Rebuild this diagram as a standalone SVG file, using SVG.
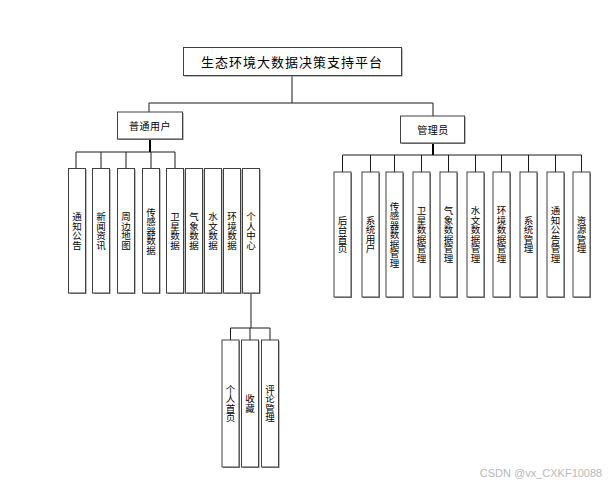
<svg xmlns="http://www.w3.org/2000/svg" width="609" height="485" viewBox="0 0 609 485">
<defs>
<style>
.sh{fill:#808080;}
.bx{fill:#ffffff;stroke:#404040;stroke-width:1;}
.ln{fill:none;stroke:#1a1a1a;stroke-width:1;}
.thk{fill:none;stroke:#000;stroke-width:2;}
.t{font-family:"Noto Sans CJK SC","Liberation Sans",sans-serif;fill:#000;}
.h{font-size:10px;text-anchor:middle;dominant-baseline:central;letter-spacing:0.5px;}
.v{font-size:9.5px;text-anchor:middle;writing-mode:vertical-rl;dominant-baseline:central;}
.title{font-size:13px;text-anchor:middle;dominant-baseline:central;letter-spacing:1px;}
</style>
</defs>
<rect width="609" height="485" fill="#ffffff"/>
<g id="connectors">
<path class="ln" d="M292,75V103M149,103H433M149,103V112M433,103V116"/>
<path class="thk" d="M150,139V152M433,143V155"/>
<path class="ln" d="M76,152H175M76,152V168M101,152V168M126,152V168M151,152V168M175,152V168"/>
<path class="ln" d="M342.5,155H581.5M342.5,155V172M370.5,155V172M394.5,155V172M421.5,155V172M448.5,155V172M475.5,155V172M501.5,155V172M528.5,155V172M555.5,155V172M581.5,155V172"/>
<path class="ln" d="M251,293V328M230.5,328H270M230.5,328V340M250,328V340M270,328V340"/>
</g>
<g id="root"><rect class="sh" x="184.5" y="48.5" width="218" height="28"/><rect class="bx" x="183.5" y="47.5" width="218" height="28"/><text class="t title" x="292" y="61.5">生态环境大数据决策支持平台</text></g>
<g id="user"><rect class="sh" x="118.5" y="113" width="65" height="27"/><rect class="bx" x="117.5" y="112" width="65" height="27"/><text class="t h" x="150" y="125.5">普通用户</text></g>
<g id="admin"><rect class="sh" x="401.5" y="117" width="64" height="27"/><rect class="bx" x="400.5" y="116" width="64" height="27"/><text class="t h" x="433" y="129.5">管理员</text></g>

<g id="u1"><rect class="sh" x="69.5" y="169.5" width="17" height="124.5"/><rect class="bx" x="68.5" y="168.5" width="17" height="124.5"/><text class="t v" x="77" y="231">通知公告</text></g>
<g id="u2"><rect class="sh" x="93.5" y="169.5" width="17" height="124.5"/><rect class="bx" x="92.5" y="168.5" width="17" height="124.5"/><text class="t v" x="101" y="231">新闻资讯</text></g>
<g id="u3"><rect class="sh" x="118.5" y="169.5" width="17" height="124.5"/><rect class="bx" x="117.5" y="168.5" width="17" height="124.5"/><text class="t v" x="126" y="231">周边地图</text></g>
<g id="u4"><rect class="sh" x="143.5" y="169.5" width="17" height="124.5"/><rect class="bx" x="142.5" y="168.5" width="17" height="124.5"/><text class="t v" x="151" y="231">传感器数据</text></g>
<g id="u5"><rect class="sh" x="167.5" y="169.5" width="17" height="124.5"/><rect class="bx" x="166.5" y="168.5" width="17" height="124.5"/><text class="t v" x="175" y="231">卫星数据</text></g>
<g id="u6"><rect class="sh" x="186.5" y="169.5" width="17" height="124.5"/><rect class="bx" x="185.5" y="168.5" width="17" height="124.5"/><text class="t v" x="194" y="231">气象数据</text></g>
<g id="u7"><rect class="sh" x="205.5" y="169.5" width="17" height="124.5"/><rect class="bx" x="204.5" y="168.5" width="17" height="124.5"/><text class="t v" x="213" y="231">水文数据</text></g>
<g id="u8"><rect class="sh" x="224.5" y="169.5" width="17" height="124.5"/><rect class="bx" x="223.5" y="168.5" width="17" height="124.5"/><text class="t v" x="232" y="231">环境数据</text></g>
<g id="u9"><rect class="sh" x="243.5" y="169.5" width="17" height="124.5"/><rect class="bx" x="242.5" y="168.5" width="17" height="124.5"/><text class="t v" x="251" y="231">个人中心</text></g>

<g id="a1"><rect class="sh" x="335" y="173" width="17" height="125"/><rect class="bx" x="334" y="172" width="17" height="125"/><text class="t v" x="342.5" y="234.5">后台首页</text></g>
<g id="a2"><rect class="sh" x="363" y="173" width="17" height="125"/><rect class="bx" x="362" y="172" width="17" height="125"/><text class="t v" x="370.5" y="234.5">系统用户</text></g>
<g id="a3"><rect class="sh" x="387" y="173" width="17" height="125"/><rect class="bx" x="386" y="172" width="17" height="125"/><text class="t v" x="394.5" y="234.5">传感器数据管理</text></g>
<g id="a4"><rect class="sh" x="414" y="173" width="17" height="125"/><rect class="bx" x="413" y="172" width="17" height="125"/><text class="t v" x="421.5" y="234.5">卫星数据管理</text></g>
<g id="a5"><rect class="sh" x="441" y="173" width="17" height="125"/><rect class="bx" x="440" y="172" width="17" height="125"/><text class="t v" x="448.5" y="234.5">气象数据管理</text></g>
<g id="a6"><rect class="sh" x="468" y="173" width="17" height="125"/><rect class="bx" x="467" y="172" width="17" height="125"/><text class="t v" x="475.5" y="234.5">水文数据管理</text></g>
<g id="a7"><rect class="sh" x="494" y="173" width="17" height="125"/><rect class="bx" x="493" y="172" width="17" height="125"/><text class="t v" x="501.5" y="234.5">环境数据管理</text></g>
<g id="a8"><rect class="sh" x="521" y="173" width="17" height="125"/><rect class="bx" x="520" y="172" width="17" height="125"/><text class="t v" x="528.5" y="234.5">系统管理</text></g>
<g id="a9"><rect class="sh" x="548" y="173" width="17" height="125"/><rect class="bx" x="547" y="172" width="17" height="125"/><text class="t v" x="555.5" y="234.5">通知公告管理</text></g>
<g id="a10"><rect class="sh" x="574" y="173" width="17" height="125"/><rect class="bx" x="573" y="172" width="17" height="125"/><text class="t v" x="581.5" y="234.5">资源管理</text></g>

<g id="p1"><rect class="sh" x="223" y="341" width="17" height="127"/><rect class="bx" x="222" y="340" width="17" height="127"/><text class="t v" x="230.5" y="403.5">个人首页</text></g>
<g id="p2"><rect class="sh" x="242.5" y="341" width="17" height="127"/><rect class="bx" x="241.5" y="340" width="17" height="127"/><text class="t v" x="250" y="403.5">收藏</text></g>
<g id="p3"><rect class="sh" x="262.5" y="341" width="17" height="127"/><rect class="bx" x="261.5" y="340" width="17" height="127"/><text class="t v" x="270" y="403.5">评论管理</text></g>

<text x="541" y="473" font-family="Liberation Sans, sans-serif" font-size="11" fill="#b8b8b8" text-anchor="middle" dominant-baseline="central">CSDN @vx_CXKF10088</text>
</svg>
